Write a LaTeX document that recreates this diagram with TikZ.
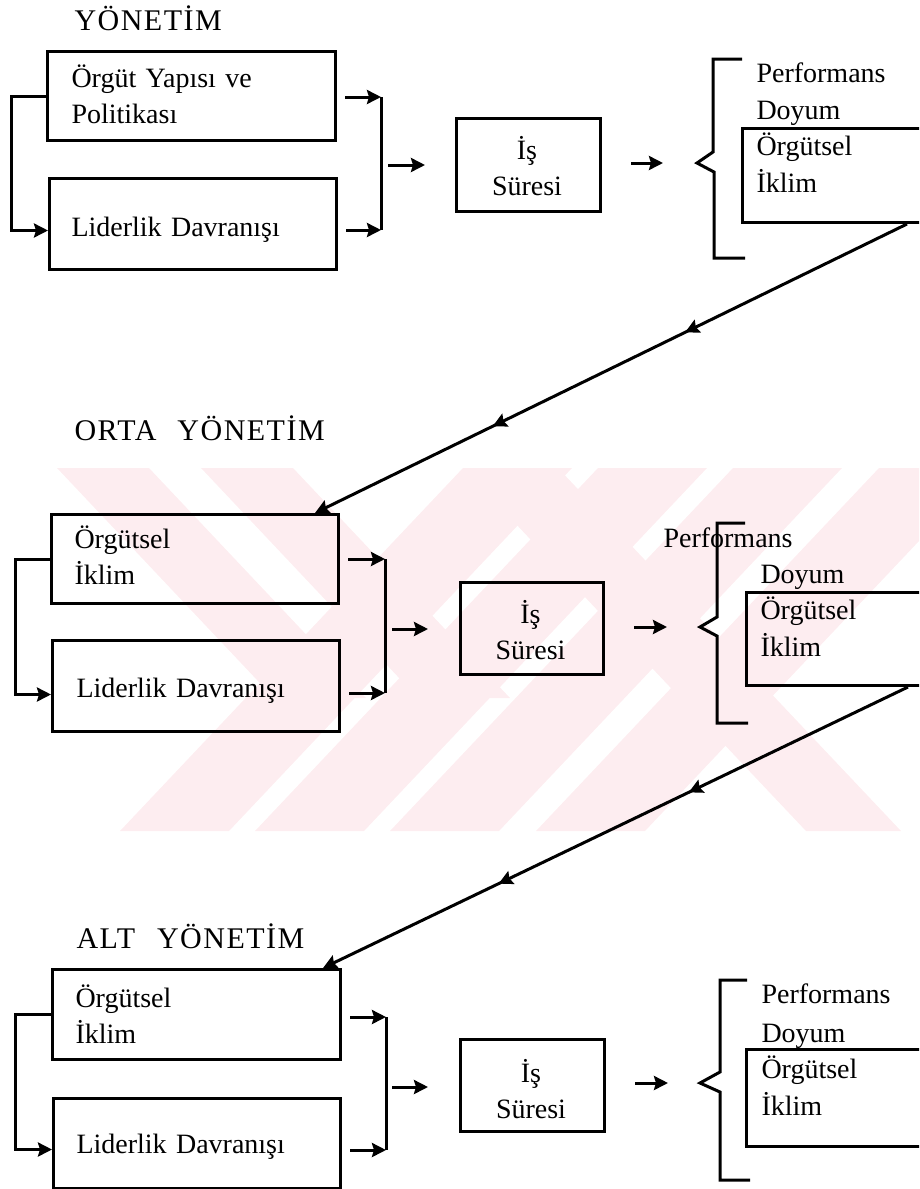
\documentclass[tikz,border=0pt]{standalone}
\usepackage{fontspec}
\setmainfont{Liberation Serif}
\newfontfamily\headfont[LetterSpace=5]{Liberation Serif}
\usetikzlibrary{arrows.meta,decorations.markings}
\definecolor{wmpink}{RGB}{253,237,240}
\tikzset{
  box/.style = {
    rectangle,
    draw,
    anchor = north west,
    inner sep = 0pt,
    minimum width = 288pt,
    minimum height = 90pt
  }
  ,
  isbox/.style = {
    box,
    minimum width = 144pt,
    minimum height = 92pt
  }
  ,
  outbox/.style = {
    box,
    minimum width = 220pt,
    minimum height = 94pt
  }
  , % headings of the levels
  label-level/.style = {
    anchor = base west,
    inner sep = 0pt,
    font = \headfont\fontsize{30}{30}\selectfont
  }
  , % texts of the boxes
  label-text/.style = {
    anchor = base west,
    inner sep = 0pt,
    align = left,
    text width = 260pt,
    font = \fontsize{28}{36.5}\selectfont
  }
  ,
  label-center/.style = {
    anchor = base,
    inner sep = 0pt,
    align = center,
    text width = 140pt,
    font = \fontsize{28}{36.5}\selectfont
  }
  ,
  feedback/.style = {
    ->,
    postaction = {decorate},
    decoration = {markings,
      mark = at position 0.375 with {\arrow{>}},
      mark = at position 0.7 with {\arrow{>}}}
  }
}

\begin{document}
\begin{tikzpicture}[x=1pt, y=-1pt, line width=3pt, >={Stealth[length=14pt,width=14pt,inset=2pt]}]
\useasboundingbox (0,0) rectangle (919,1189);
\clip (0,0) rectangle (919,1189);
% watermark
\foreach \x in {120,255,390,536}
  \fill[wmpink] (\x,831) -- ++(109,0) -- ++(343,-363) -- ++(-109,0) -- cycle;
\foreach \x in {57,201}
  \fill[wmpink] (\x,468) -- ++(92,0) -- ++(217,230) -- ++(-92,0) -- cycle;
\fill[wmpink] (463,468) -- ++(95,0) -- ++(343,363) -- ++(-95,0) -- cycle;

% YONETIM
\node[label-level] at (73,30) (t-head) {YÖNETİM};
\node[box, minimum height=89pt] at (46,50) (t-org) {};
\node[box, minimum width=287pt, minimum height=91pt] at (48,177) (t-lid) {};
\node[label-text] at (70,87) (t-org-text) {Örgüt Yapısı ve\\Politikası};
\node[label-text] at (70,236) (t-lid-text) {Liderlik Davranışı};
\node[isbox, minimum height=93pt] at (455,117) (t-is) {};
\node[label-center] at (527,159) (t-is-text) {İş\\Süresi};
\node[outbox] at (741,127) (t-out) {};
\node[label-text] at (755,82) (t-perf) {Performans};
\node[label-text] at (755,119) (t-out-text) {Doyum\\Örgütsel\\İklim};
\coordinate (t-j1) at (381,97);
\coordinate (t-j2) at (381,230);
\coordinate (t-jm) at (381,165);
\coordinate (t-tip) at (697,163);
\draw[->] (t-org.west) -- ++(-35,0) |- ([yshift=-6.5pt]t-lid.west);
\draw[->, shorten <=8pt] (t-j1 -| t-org.east) -- (t-j1);
\draw (t-j1) -- (t-j2);
\draw[->, shorten <=8pt] (t-j2 -| t-lid.east) -- (t-j2);
\draw[->, shorten <=7pt, shorten >=30pt] (t-jm) -- (t-jm -| t-is.west);
\draw[->, shorten <=29pt, shorten >=34pt] (t-is.east |- t-tip) -- (t-tip);
\draw (742,59) -- (713,59) -- (713,152) -- (t-tip) -- (714,172) -- (714,258) -- (745,258);

% ORTA YONETIM
\node[label-level] at (73,440) (o-head) {ORTA\hspace{12pt} YÖNETİM};
\node[box, minimum width=287pt, minimum height=89pt] at (50,513) (o-org) {};
\node[box, minimum width=287pt, minimum height=91pt] at (51,639) (o-lid) {};
\node[label-text] at (73,548) (o-org-text) {Örgütsel\\İklim};
\node[label-text] at (75,697) (o-lid-text) {Liderlik Davranışı};
\node[isbox, minimum width=143pt] at (459,581) (o-is) {};
\node[label-center] at (530.5,623) (o-is-text) {İş\\Süresi};
\node[outbox, minimum height=93pt] at (745,591) (o-out) {};
\node[label-text] at (662,547) (o-perf) {Performans};
\node[label-text] at (759,583) (o-out-text) {Doyum\\Örgütsel\\İklim};
\coordinate (o-j1) at (385,559);
\coordinate (o-j2) at (385,693);
\coordinate (o-jm) at (385,629);
\coordinate (o-tip) at (700,627);
\draw[->] (o-org.west) -- ++(-35,0) |- ([yshift=-8.5pt]o-lid.west);
\draw[->, shorten <=8pt] (o-j1 -| o-org.east) -- (o-j1);
\draw (o-j1) -- (o-j2);
\draw[->, shorten <=8pt] (o-j2 -| o-lid.east) -- (o-j2);
\draw[->, shorten <=7pt, shorten >=31pt] (o-jm) -- (o-jm -| o-is.west);
\draw[->, shorten <=29pt, shorten >=33pt] (o-is.east |- o-tip) -- (o-tip);
\draw (745,523) -- (717,523) -- (717,617) -- (o-tip) -- (717,636) -- (717,723) -- (748,723);

% ALT YONETIM
\node[label-level] at (75,948) (a-head) {ALT\hspace{13pt} YÖNETİM};
\node[box] at (51,968) (a-org) {};
\node[box, minimum width=287pt] at (52,1097) (a-lid) {};
\node[label-text] at (74,1007) (a-org-text) {Örgütsel\\İklim};
\node[label-text] at (75,1153) (a-lid-text) {Liderlik Davranışı};
\node[isbox] at (459,1038) (a-is) {};
\node[label-center] at (531,1082) (a-is-text) {İş\\Süresi};
\node[outbox, minimum height=97pt] at (745,1048) (a-out) {};
\node[label-text] at (760,1003) (a-perf) {Performans};
\node[label-text] at (760,1042) (a-out-text) {Doyum\\Örgütsel\\İklim};
\coordinate (a-j1) at (386,1017);
\coordinate (a-j2) at (386,1150);
\coordinate (a-jm) at (386,1087);
\coordinate (a-tip) at (700,1083);
\draw[->] (a-org.west) -- ++(-36,0) |- ([yshift=-6pt]a-lid.west);
\draw[->, shorten <=8pt] (a-j1 -| a-org.east) -- (a-j1);
\draw (a-j1) -- (a-j2);
\draw[->, shorten <=8pt] (a-j2 -| a-lid.east) -- (a-j2);
\draw[->, shorten <=6pt, shorten >=31pt] (a-jm) -- (a-jm -| a-is.west);
\draw[->, shorten <=29pt, shorten >=32pt] (a-is.east |- a-tip) -- (a-tip);
\draw (747,980) -- (720,980) -- (720,1072) -- (a-tip) -- (720,1092) -- (720,1180) -- (750,1180);

% links between the levels
\draw[feedback] ([xshift=166pt]t-out.south west) -- ([xshift=-25pt]o-org.north east);
\draw[feedback] ([xshift=163pt]o-out.south west) -- ([xshift=-19pt]a-org.north east);
\end{tikzpicture}
\end{document}
